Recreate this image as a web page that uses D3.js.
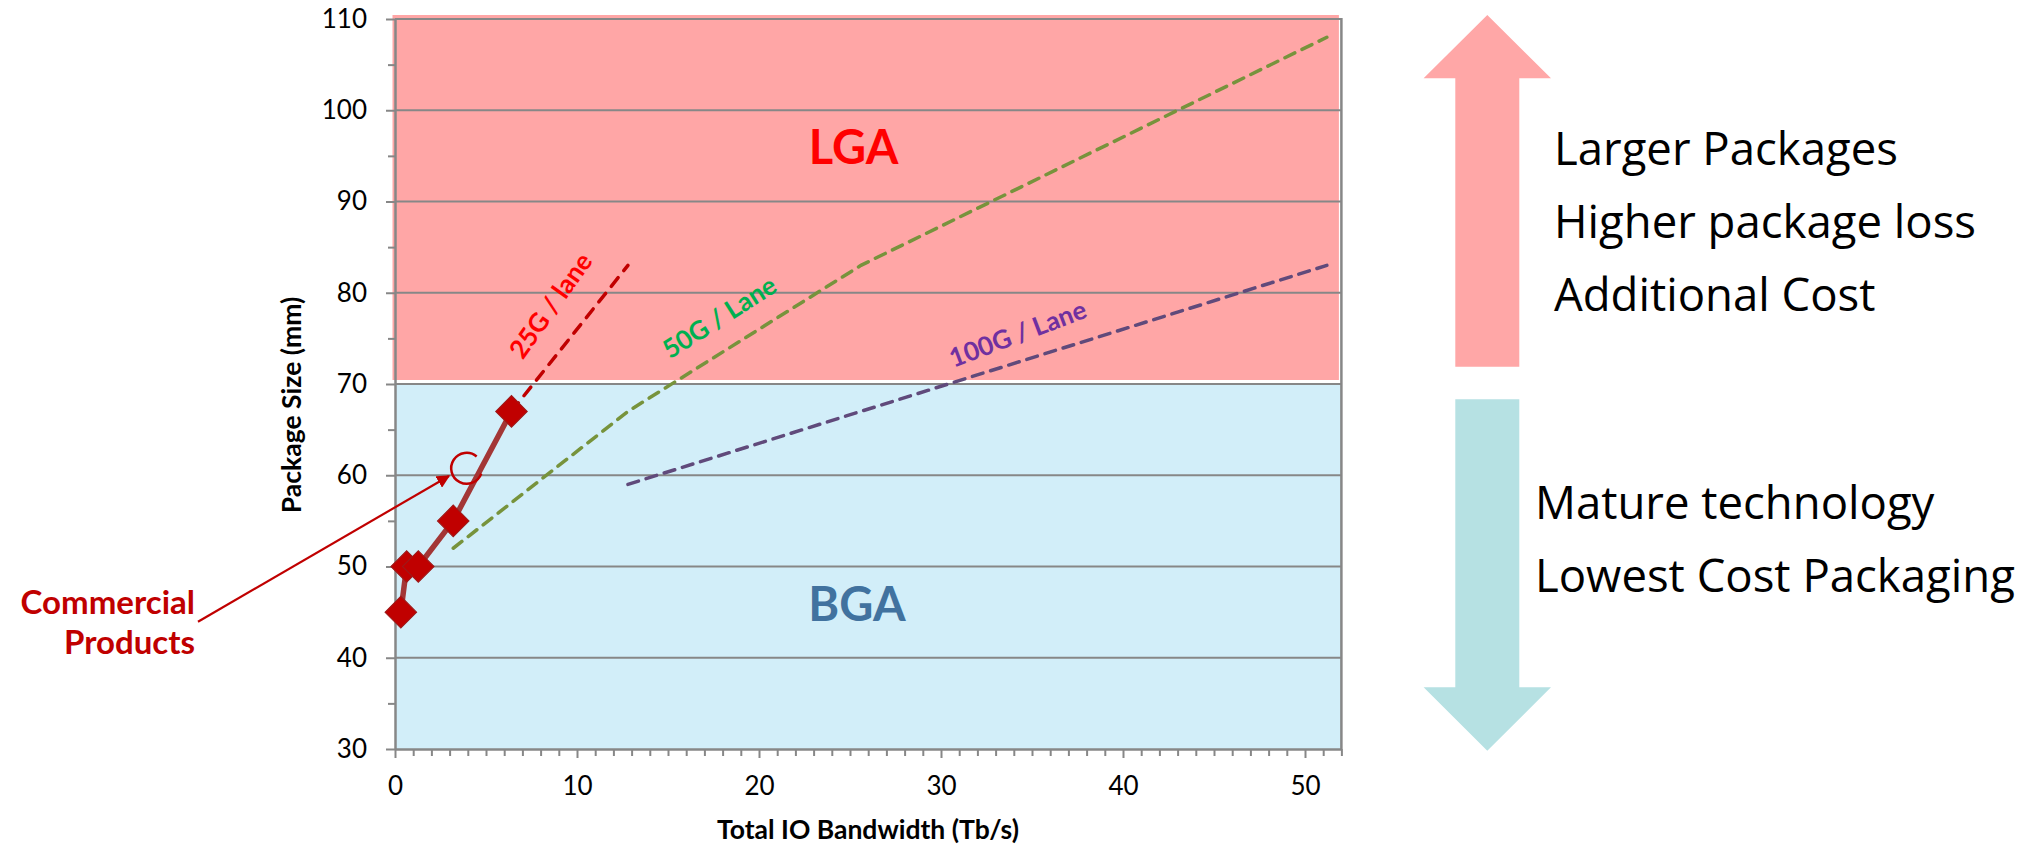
<!DOCTYPE html>
<html><head><meta charset="utf-8">
<script src="https://cdn.jsdelivr.net/npm/d3@7"></script>
<style>body{margin:0;background:#fff;} svg{display:block}</style>
</head><body>
<svg id="chart" width="2036" height="846"></svg>
<script>
// ---- data ----
const commercialX = [0.32, 0.64, 1.28, 3.2, 6.4];
const commercialY = [45, 50, 50, 55, 67];
const lane25X = [6.4, 12.8];
const lane25Y = [67, 83];
const lane50X = [3.2, 12.8, 25.6, 51.2];
const lane50Y = [52, 67, 83, 108];
const lane100X = [12.8, 25.6, 51.2];
const lane100Y = [59, 67, 83];
const xTicks = [0, 10, 20, 30, 40, 50];
const yTicks = [30, 40, 50, 60, 70, 80, 90, 100, 110];
const zoneNames = ["LGA", "BGA"];
const zoneBounds = [[70, 110], [30, 70]];
const upText = ["Larger Packages", "Higher package loss", "Additional Cost"];
const downText = ["Mature technology", "Lowest Cost Packaging"];

// ---- layout ----
const svg = d3.select("#chart");
const x = d3.scaleLinear().domain([0, 52]).range([395, 1341.4]);
const y = d3.scaleLinear().domain([30, 110]).range([749, 19]);
const chartFont = "Lato, 'Liberation Sans', sans-serif";
const grey = "#878787";

// zones
const zoneFill = ["#FFA6A6", "#D2EEF9"];
const zoneOffset = [[-2.5, -4], [0, -1]];
zoneNames.forEach((n, i) => {
  const [lo, hi] = zoneBounds[i];
  const [dx, dy] = zoneOffset[i];
  svg.append("rect")
    .attr("x", x(0) + dx).attr("y", y(hi) + dy)
    .attr("width", x(52) - x(0))
    .attr("height", y(lo) - y(hi) + (i === 0 ? 0 : 1))
    .attr("fill", zoneFill[i]);
});

// gridlines
svg.append("g").selectAll("line").data(yTicks.filter(t => t > 30)).join("line")
  .attr("x1", x(0)).attr("x2", x(52))
  .attr("y1", d => y(d)).attr("y2", d => y(d))
  .attr("stroke", grey).attr("stroke-width", 2);
// right border
svg.append("line").attr("x1", x(52)).attr("x2", x(52)).attr("y1", y(110) - 1).attr("y2", y(30))
  .attr("stroke", grey).attr("stroke-width", 2.5);

// axes
const yAxis = svg.append("g").attr("transform", `translate(${x(0)},0)`)
  .call(d3.axisLeft(y).tickValues(yTicks).tickSize(9).tickSizeOuter(0).tickPadding(19));
const yMinor = svg.append("g").attr("transform", `translate(${x(0)},0)`)
  .call(d3.axisLeft(y).tickValues(d3.range(35, 110, 10)).tickSize(7).tickFormat(""));
const xAxis = svg.append("g").attr("transform", `translate(0,${y(30)})`)
  .call(d3.axisBottom(x).tickValues(xTicks).tickSize(9).tickSizeOuter(0).tickPadding(19));
const xMinor = svg.append("g").attr("transform", `translate(0,${y(30)})`)
  .call(d3.axisBottom(x).tickValues(d3.range(1, 53, 1).filter(v => v % 10 !== 0)).tickSize(7).tickFormat(""));
[yAxis, yMinor, xAxis, xMinor].forEach(g => {
  g.selectAll("path.domain").attr("stroke", grey).attr("stroke-width", 2.5);
  g.selectAll(".tick line").attr("stroke", grey).attr("stroke-width", 2);
  g.selectAll(".tick text").attr("font-family", chartFont).attr("font-size", 26).attr("fill", "#000");
});
yMinor.select("path.domain").remove();
xMinor.select("path.domain").remove();

// zone labels
const zoneLabelColor = ["#FF0000", "#41729F"];
const zoneLabelPos = [[853.5, 164], [857, 621]];
zoneNames.forEach((n, i) => {
  svg.append("text").attr("x", zoneLabelPos[i][0]).attr("y", zoneLabelPos[i][1])
    .attr("text-anchor", "middle").attr("font-family", chartFont).attr("font-weight", "bold")
    .attr("font-size", 47).attr("fill", zoneLabelColor[i]).text(n);
});

// lines
const line = d3.line().x(d => x(d[0])).y(d => y(d[1]));
const zip = (a, b) => a.map((v, i) => [v, b[i]]);
svg.append("path").datum(zip(lane50X, lane50Y)).attr("d", line)
  .attr("fill", "none").attr("stroke", "#77933C").attr("stroke-width", 3.5)
  .attr("stroke-dasharray", "11,8").attr("stroke-linecap", "round");
svg.append("path").datum(zip(lane100X, lane100Y)).attr("d", line)
  .attr("fill", "none").attr("stroke", "#604A7B").attr("stroke-width", 3.5)
  .attr("stroke-dasharray", "11,8").attr("stroke-linecap", "round");
svg.append("path").datum(zip(lane25X, lane25Y)).attr("d", line)
  .attr("fill", "none").attr("stroke", "#C00000").attr("stroke-width", 3.5)
  .attr("stroke-dasharray", "11,9").attr("stroke-linecap", "round");
svg.append("path").datum(zip(commercialX, commercialY)).attr("d", line)
  .attr("fill", "none").attr("stroke", "#A33636").attr("stroke-width", 5.5).attr("stroke-linejoin", "round");
svg.append("g").selectAll("path").data(zip(commercialX, commercialY)).join("path")
  .attr("d", d3.symbol(d3.symbolSquare, 500))
  .attr("transform", d => `translate(${x(d[0])},${y(d[1])}) rotate(45)`)
  .attr("fill", "#C00000").attr("stroke", "#9B1B1B").attr("stroke-width", 1);

// line labels
const laneLabels = [
  {t: "25G / lane", c: "#FF0000", cx: 550, cy: 305, a: -54.6},
  {t: "50G / Lane", c: "#00B050", cx: 719, cy: 316.5, a: -32.5},
  {t: "100G / Lane", c: "#7030A0", cx: 1017.5, cy: 333, a: -20.7}
];
svg.append("g").selectAll("text").data(laneLabels).join("text")
  .attr("transform", d => `translate(${d.cx},${d.cy}) rotate(${d.a})`)
  .attr("text-anchor", "middle").attr("dominant-baseline", "central")
  .attr("font-family", chartFont).attr("font-weight", "bold").attr("font-size", 26)
  .attr("fill", d => d.c).text(d => d.t);

// axis titles
svg.append("text").attr("x", 868).attr("y", 839).attr("text-anchor", "middle")
  .attr("font-family", chartFont).attr("font-weight", "bold").attr("font-size", 26.5)
  .text("Total IO Bandwidth (Tb/s)");
svg.append("text").attr("transform", "translate(301,405) rotate(-90)").attr("text-anchor", "middle")
  .attr("font-family", chartFont).attr("font-weight", "bold").attr("font-size", 26.5)
  .text("Package Size (mm)");

// annotation
const defs = svg.append("defs");
defs.append("marker").attr("id", "ah").attr("viewBox", "0 0 10 10").attr("refX", 9).attr("refY", 5)
  .attr("markerWidth", 6).attr("markerHeight", 6).attr("markerUnits", "strokeWidth").attr("orient", "auto")
  .append("path").attr("d", "M0,0 L10,5 L0,10 z").attr("fill", "#C00000");
svg.append("line").attr("x1", 198).attr("y1", 621.7).attr("x2", 449).attr("y2", 476)
  .attr("stroke", "#C00000").attr("stroke-width", 2.2).attr("marker-end", "url(#ah)");
const cx = 466.7, cy = 468.3, r = 15.5;
const a1 = 50 * Math.PI / 180, a2 = -20 * Math.PI / 180;
svg.append("path")
  .attr("d", `M${cx + r * Math.cos(a1)},${cy - r * Math.sin(a1)} A${r},${r} 0 1 0 ${cx + r * Math.cos(a2)},${cy - r * Math.sin(a2)}`)
  .attr("fill", "none").attr("stroke", "#C00000").attr("stroke-width", 2.5);
svg.append("text").attr("text-anchor", "end").attr("font-family", chartFont).attr("font-weight", "bold")
  .attr("font-size", 33).attr("fill", "#C00000")
  .selectAll("tspan").data(["Commercial", "Products"]).join("tspan")
  .attr("x", 195).attr("y", (d, i) => 613.5 + i * 40).text(d => d);

// right-side arrows
const ax = 1487.3, headW = 63.7, shaftW = 32;
svg.append("path")
  .attr("d", `M${ax},15 L${ax + headW},78.3 L${ax + shaftW},78.3 L${ax + shaftW},366.7 L${ax - shaftW},366.7 L${ax - shaftW},78.3 L${ax - headW},78.3 Z`)
  .attr("fill", "#FFA7A7");
svg.append("path")
  .attr("d", `M${ax},750.7 L${ax + headW},687.3 L${ax + shaftW},687.3 L${ax + shaftW},399.3 L${ax - shaftW},399.3 L${ax - shaftW},687.3 L${ax - headW},687.3 Z`)
  .attr("fill", "#B6E1E3");

const sideFont = "'Open Sans', 'Noto Sans', sans-serif";
svg.append("g").selectAll("text").data(upText).join("text")
  .attr("x", 1554).attr("y", (d, i) => 165 + i * 73)
  .attr("font-family", sideFont).attr("font-size", 45.5).attr("fill", "#000").text(d => d);
svg.append("g").selectAll("text").data(downText).join("text")
  .attr("x", 1535).attr("y", (d, i) => 519 + i * 73)
  .attr("font-family", sideFont).attr("font-size", 45.5).attr("fill", "#000").text(d => d);
</script>
</body></html>
